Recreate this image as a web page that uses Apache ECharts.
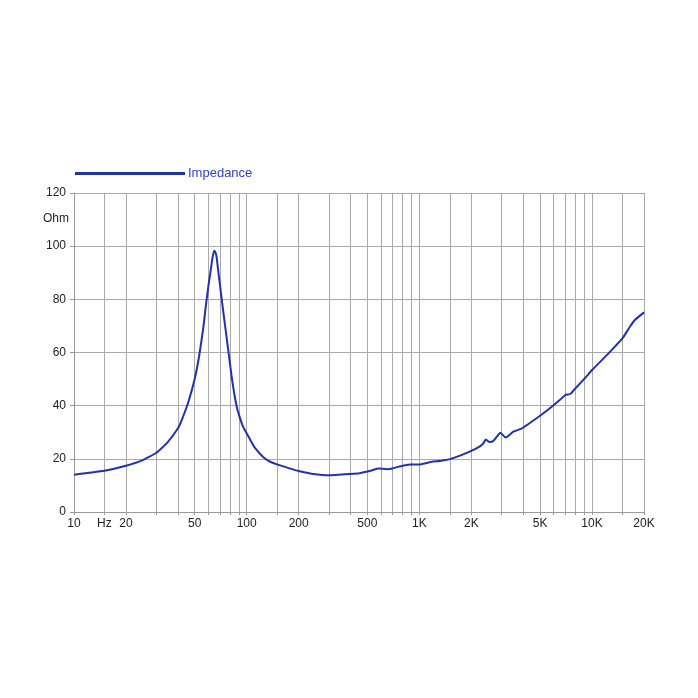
<!DOCTYPE html>
<html>
<head>
<meta charset="utf-8">
<script src="https://cdn.jsdelivr.net/npm/echarts@6/dist/echarts.min.js"></script>
<style>
html,body{margin:0;padding:0;background:#fff;}
#chart{width:698px;height:698px;}
</style>
</head>
<body>
<div id="chart"></div>
<script>
// Frequency (Hz) and impedance (Ohm)
const freqs = [10, 12, 15, 20, 24.6, 30, 35, 40, 42, 46, 50, 53, 56, 58, 60, 61.3, 63, 64, 65, 66, 67, 68.5, 70, 72, 75, 78, 82, 85, 88, 91, 95, 100, 106, 112, 125, 136, 150, 175, 200, 243, 300, 400, 451, 500, 540, 577, 650, 700, 800, 900, 1000, 1180, 1310, 1500, 1720, 2000, 2230, 2350, 2420, 2540, 2680, 2950, 3160, 3500, 3940, 5000, 5700, 6500, 7000, 7500, 8000, 9000, 10000, 12300, 15000, 16500, 17700, 20000];
const impedance = [14.0, 14.7, 15.5, 17.4, 19.3, 22.3, 26.4, 31.5, 34.5, 41.5, 50.0, 58.5, 69.0, 77.5, 85.0, 89.0, 94.5, 97.0, 98.3, 97.6, 95.8, 90.5, 85.5, 79.0, 70.0, 61.5, 50.5, 44.0, 39.0, 35.8, 32.3, 29.6, 26.6, 24.0, 20.6, 19.0, 17.9, 16.5, 15.4, 14.3, 13.8, 14.3, 14.6, 15.2, 15.8, 16.4, 16.1, 16.4, 17.4, 17.9, 17.9, 18.9, 19.2, 19.9, 21.2, 23.0, 24.6, 25.8, 27.3, 26.3, 26.7, 29.8, 28.0, 30.2, 31.5, 36.2, 39.0, 42.1, 44.0, 44.4, 46.5, 50.0, 53.4, 59.3, 65.3, 69.5, 72.2, 75.1];
const gridFreqs = [10, 15, 20, 30, 40, 50, 60, 70, 80, 90, 100, 150, 200, 300, 400, 500, 600, 700, 800, 900, 1000, 1500, 2000, 3000, 4000, 5000, 6000, 7000, 8000, 9000, 10000, 15000, 20000];
const labelFreqs = [10, 15, 20, 50, 100, 200, 500, 1000, 2000, 5000, 10000, 20000];
const labelTexts = ['10', 'Hz', '20', '50', '100', '200', '500', '1K', '2K', '5K', '10K', '20K'];
const seriesName = 'Impedance';
const yUnit = 'Ohm';

const chart = echarts.init(document.getElementById('chart'), null, {renderer: 'canvas'});
const lg = f => Math.log10(f);
const data = freqs.map((f, i) => [lg(f), impedance[i]]);
const labelMap = {};
labelFreqs.forEach((f, i) => { labelMap[lg(f).toFixed(4)] = labelTexts[i]; });
const font = '"Liberation Sans", Arial, sans-serif';

chart.setOption({
  animation: false,
  backgroundColor: '#ffffff',
  legend: {
    left: 75, top: 167, padding: 0,
    icon: 'rect',
    itemWidth: 110, itemHeight: 3,
    textStyle: {color: '#3344bb', fontSize: 13, fontFamily: font, padding: [0, 0, 0, -2]},
    data: [seriesName]
  },
  graphic: [{
    type: 'text', left: 43, top: 213,
    style: {text: yUnit, fill: '#222', font: '12px ' + font}
  }],
  grid: {left: 74, right: 54, top: 193, bottom: 186, containLabel: false},
  xAxis: {
    type: 'value',
    min: 1, max: lg(20000),
    axisLine: {show: true, lineStyle: {color: '#999'}},
    axisTick: {show: true, length: 3, lineStyle: {color: '#999'}, customValues: gridFreqs.map(lg)},
    axisLabel: {
      customValues: labelFreqs.map(lg),
      color: '#222', fontSize: 12, fontFamily: font, margin: 6,
      formatter: v => labelMap[v.toFixed(4)] || ''
    },
    splitLine: {show: true, lineStyle: {color: '#aaa', width: 1}}
  },
  yAxis: {
    type: 'value',
    min: 0, max: 120, interval: 20,
    axisLine: {show: true, lineStyle: {color: '#999'}},
    axisTick: {show: true, length: 4, lineStyle: {color: '#999'}},
    axisLabel: {color: '#222', fontSize: 12, fontFamily: font, margin: 8},
    splitLine: {show: true, lineStyle: {color: '#aaa', width: 1}}
  },
  series: [{
    name: seriesName,
    type: 'line',
    data: data,
    showSymbol: false,
    smooth: 0.15,
    color: '#2233aa',
    lineStyle: {color: '#2233aa', width: 2}
  }]
});
</script>
</body>
</html>
